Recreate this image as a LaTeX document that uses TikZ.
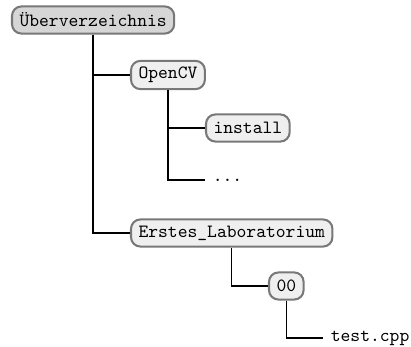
\documentclass[tikz,border=0pt]{standalone}
\usepackage{fontspec}
\usepackage{xcolor}
\usepackage{tikz}
\usetikzlibrary{arrows.meta, positioning}
\definecolor{dirline}{HTML}{787878}
\definecolor{rootfill}{HTML}{D6D6D6}
\definecolor{dirfill}{HTML}{EFEFEF}

\begin{document}
\begin{tikzpicture}[x=0.535pt, y=-0.535pt,
    folder/.style={draw=dirline, fill=#1, line width=1.1pt, rounded corners=5pt,
                   minimum height=14.5pt, inner xsep=4pt, anchor=west, font=\ttfamily},
    leaf/.style={inner xsep=4pt, anchor=west, font=\ttfamily},
    branch/.style={line width=0.75pt, black},
]
    \useasboundingbox (0, 0) rectangle (411, 347);

    % === top level ===
    \node[folder=rootfill] (top) at (11, 20) {Überverzeichnis};

    % === OpenCV ===
    \node[folder=dirfill] (opencv) at (130, 75) {OpenCV};
    \node[folder=dirfill] (install) at (205, 128) {install};
    \node[leaf] (more) at (205, 180) {...};

    % === Erstes Laboratorium ===
    \node[folder=dirfill] (lab) at (130, 233) {Erstes\_Laboratorium};
    \node[folder=dirfill] (zero) at (268, 286) {00};
    \node[leaf] (cpp) at (323, 338) {test.cpp};

    \draw[branch] (top.south) |- (opencv.west);
    \draw[branch] (top.south) |- (lab.west);
    \draw[branch] (opencv.south) |- (install.west);
    \draw[branch] (opencv.south) |- (more.west);
    \draw[branch] (lab.south) |- (zero.west);
    \draw[branch] (zero.south) |- (cpp.west);
\end{tikzpicture}
\end{document}
